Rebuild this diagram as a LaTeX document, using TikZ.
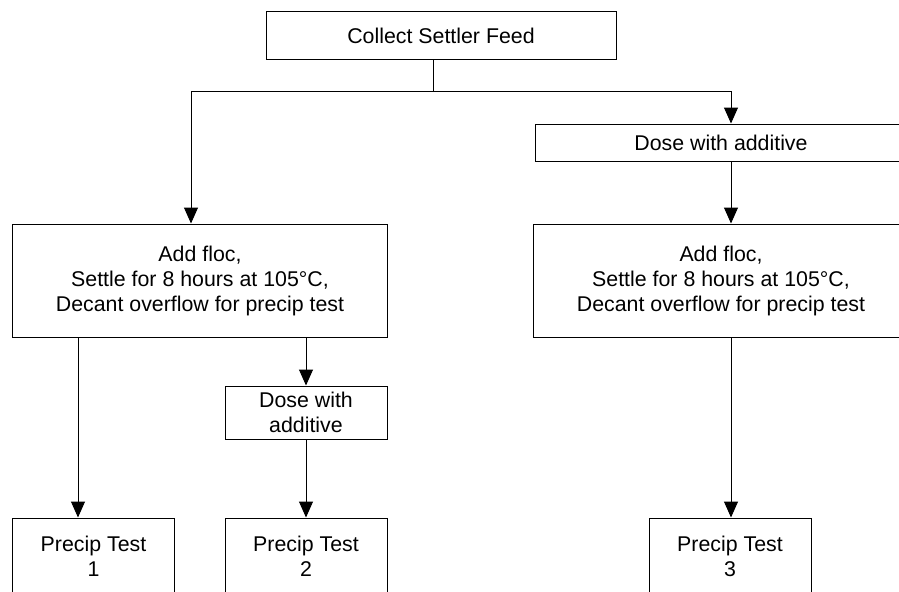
\documentclass[tikz,border=0pt]{standalone}
\usepackage{fontspec}
\setmainfont{Liberation Sans}
\usepackage{tikz}
\usetikzlibrary{arrows.meta,positioning,calc}

\begin{document}
\begin{tikzpicture}[
  x=0.75pt, y=-0.75pt,
  box/.style={rectangle, draw, line width=0.75pt, inner sep=0pt, align=center,
              font=\fontsize{16}{18.75}\selectfont},
  wide/.style={box, minimum width=281.25pt, minimum height=84.75pt},
  small/.style={box, minimum width=121.5pt, minimum height=57pt},
  arr/.style={-{Triangle[length=12pt,width=10.5pt]}, line width=0.75pt},
  link/.style={line width=0.75pt}
]
\fill[white, use as bounding box] (0,0) rectangle (899,592);
\clip (0,0) rectangle (899,592);

% Row 1
\node[box, minimum width=262.5pt, minimum height=36pt] (feed) at (441,36) {Collect Settler Feed};
\node[box, minimum width=279pt, minimum height=27.75pt] (doseR) at (721,142.5) {Dose with additive};

% Row 2
\node[wide] (flocL) at (200,280.5) {Add floc,\\Settle for 8 hours at 105°C,\\Decant overflow for precip test};
\node[wide] (flocR) at (721,280.5) {Add floc,\\Settle for 8 hours at 105°C,\\Decant overflow for precip test};
\node[box, minimum width=121.5pt, minimum height=39.75pt] (doseM) at (306,412.5) {Dose with\\additive};

% Row 3
\node[small] (test1) at (93.5,556) {Precip Test\\1};
\node[small] (test2) at (306,556) {Precip Test\\2};
\node[small] (test3) at (730,556) {Precip Test\\3};

% Columns
\coordinate (split) at (433,92);
\coordinate (colA) at (78,0);
\coordinate (colB) at (191,0);
\coordinate (colC) at (731,0);

% Arrows
\draw[link] (feed.south -| split) -- (split);
\draw[arr] (split) -| (flocL.north -| colB);
\draw[arr] (split) -| (doseR.north -| colC);
\draw[arr] (doseR.south -| colC) -- (flocR.north -| colC);
\draw[arr] (flocR.south -| colC) -- (test3.north -| colC);
\draw[arr] (flocL.south -| colA) -- (test1.north -| colA);
\draw[arr] (flocL.south -| doseM) -- (doseM.north);
\draw[arr] (doseM) -- (test2);
\end{tikzpicture}
\end{document}
